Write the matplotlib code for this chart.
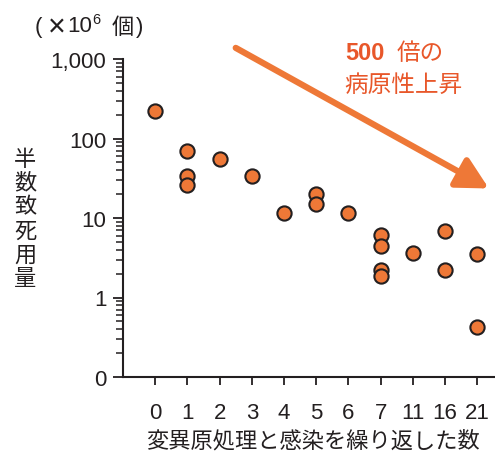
import matplotlib
matplotlib.use("Agg")
import matplotlib.pyplot as plt
from matplotlib.ticker import FixedLocator, LogLocator, NullFormatter

plt.rcParams['font.family'] = ['Liberation Sans', 'Noto Sans CJK JP', 'DejaVu Sans']

# ---- data ----
categories = ["0", "1", "2", "3", "4", "5", "6", "7", "11", "16", "21"]
ld50_values = [
    [224],
    [69, 34, 26],
    [56],
    [34],
    [11.7],
    [20.3, 14.8],
    [11.4],
    [6.2, 4.5, 2.25, 1.84],
    [3.6],
    [6.9, 2.25],
    [3.5, 0.43],
]
ytick_values = [0.1, 1, 10, 100, 1000]
ytick_labels = ["0", "1", "10", "100", "1,000"]

ORANGE = "#EE7837"
TEXT_ORANGE = "#E8572A"
DARK = "#231F20"

fig = plt.figure(figsize=(4.95, 4.52), dpi=100)
ax = fig.add_axes([123 / 495, 74 / 452, (495 - 123) / 495, (378 - 60) / 452])

xs, ys = [], []
for i, vals in enumerate(ld50_values):
    for v in vals:
        xs.append(i)
        ys.append(v)
ax.scatter(xs, ys, s=105, facecolor=ORANGE, edgecolor=DARK, linewidth=1.5, zorder=3, clip_on=False)

ax.set_yscale('log')
ax.set_ylim(0.1, 1000)
ax.set_xlim(-1, 10.55)

ax.yaxis.set_major_locator(FixedLocator(ytick_values))
ax.set_yticklabels(ytick_labels)
ax.yaxis.set_minor_locator(LogLocator(base=10, subs=range(2, 10), numticks=20))
ax.yaxis.set_minor_formatter(NullFormatter())

ax.set_xticks(range(len(categories)))
ax.set_xticklabels(categories)

for s in ['top', 'right']:
    ax.spines[s].set_visible(False)
for s in ['left', 'bottom']:
    ax.spines[s].set_linewidth(1.5)
    ax.spines[s].set_color(DARK)

ax.tick_params(axis='y', which='major', direction='out', length=7, width=1.3, colors=DARK,
               labelsize=16, pad=5)
ax.tick_params(axis='y', which='minor', direction='out', length=5, width=1.1, colors=DARK)
ax.tick_params(axis='x', which='major', direction='out', length=6, width=1.3, colors=DARK,
               labelsize=16, pad=12)

# arrow
ax.annotate("", xy=(10.36, 23.5), xytext=(2.5, 1380),
            arrowprops=dict(arrowstyle='-|>,head_length=0.95,head_width=0.5',
                            mutation_scale=20, lw=4.5, color=ORANGE,
                            shrinkA=0, shrinkB=0),
            annotation_clip=False, zorder=2)

# annotation text
fig.text(345 / 495, 1 - 54 / 452, "500", fontsize=17, fontweight='bold', color=TEXT_ORANGE,
         ha='left', va='center')
fig.text(397 / 495, 1 - 54 / 452, "倍の", fontsize=17, color=TEXT_ORANGE,
         ha='left', va='center', family=['Noto Sans CJK JP'])
fig.text(344 / 495, 1 - 85 / 452, "病原性上昇", fontsize=17, color=TEXT_ORANGE,
         ha='left', va='center', family=['Noto Sans CJK JP'])

# unit label: （×10^6 個）
unit_y = 1 - 27 / 452
fig.text(38 / 495, unit_y, "(", fontsize=16, color=DARK, ha='center', va='center')
fig.text(57 / 495, 1 - 28 / 452, "×", fontsize=22, color=DARK, ha='center', va='center')
fig.text(79.5 / 495, unit_y, "10", fontsize=16, color=DARK, ha='center', va='center')
fig.text(96 / 495, 1 - 19.5 / 452, "6", fontsize=10.5, color=DARK, ha='center', va='center')
fig.text(122.5 / 495, unit_y, "個", fontsize=16, color=DARK, ha='center', va='center',
         family=['Noto Sans CJK JP'])
fig.text(139.5 / 495, unit_y, ")", fontsize=16, color=DARK, ha='center', va='center')

# y label, stacked characters
fig.text(25 / 495, 1 - 219 / 452, "\n".join("半数致死用量"), fontsize=16, color=DARK,
         ha='center', va='center', linespacing=1.05, family=['Noto Sans CJK JP'])

# x label
fig.text(313 / 495, 1 - 441 / 452, "変異原処理と感染を繰り返した数", fontsize=16, color=DARK,
         ha='center', va='center', family=['Noto Sans CJK JP'])

fig.savefig("out.png", dpi=100)
